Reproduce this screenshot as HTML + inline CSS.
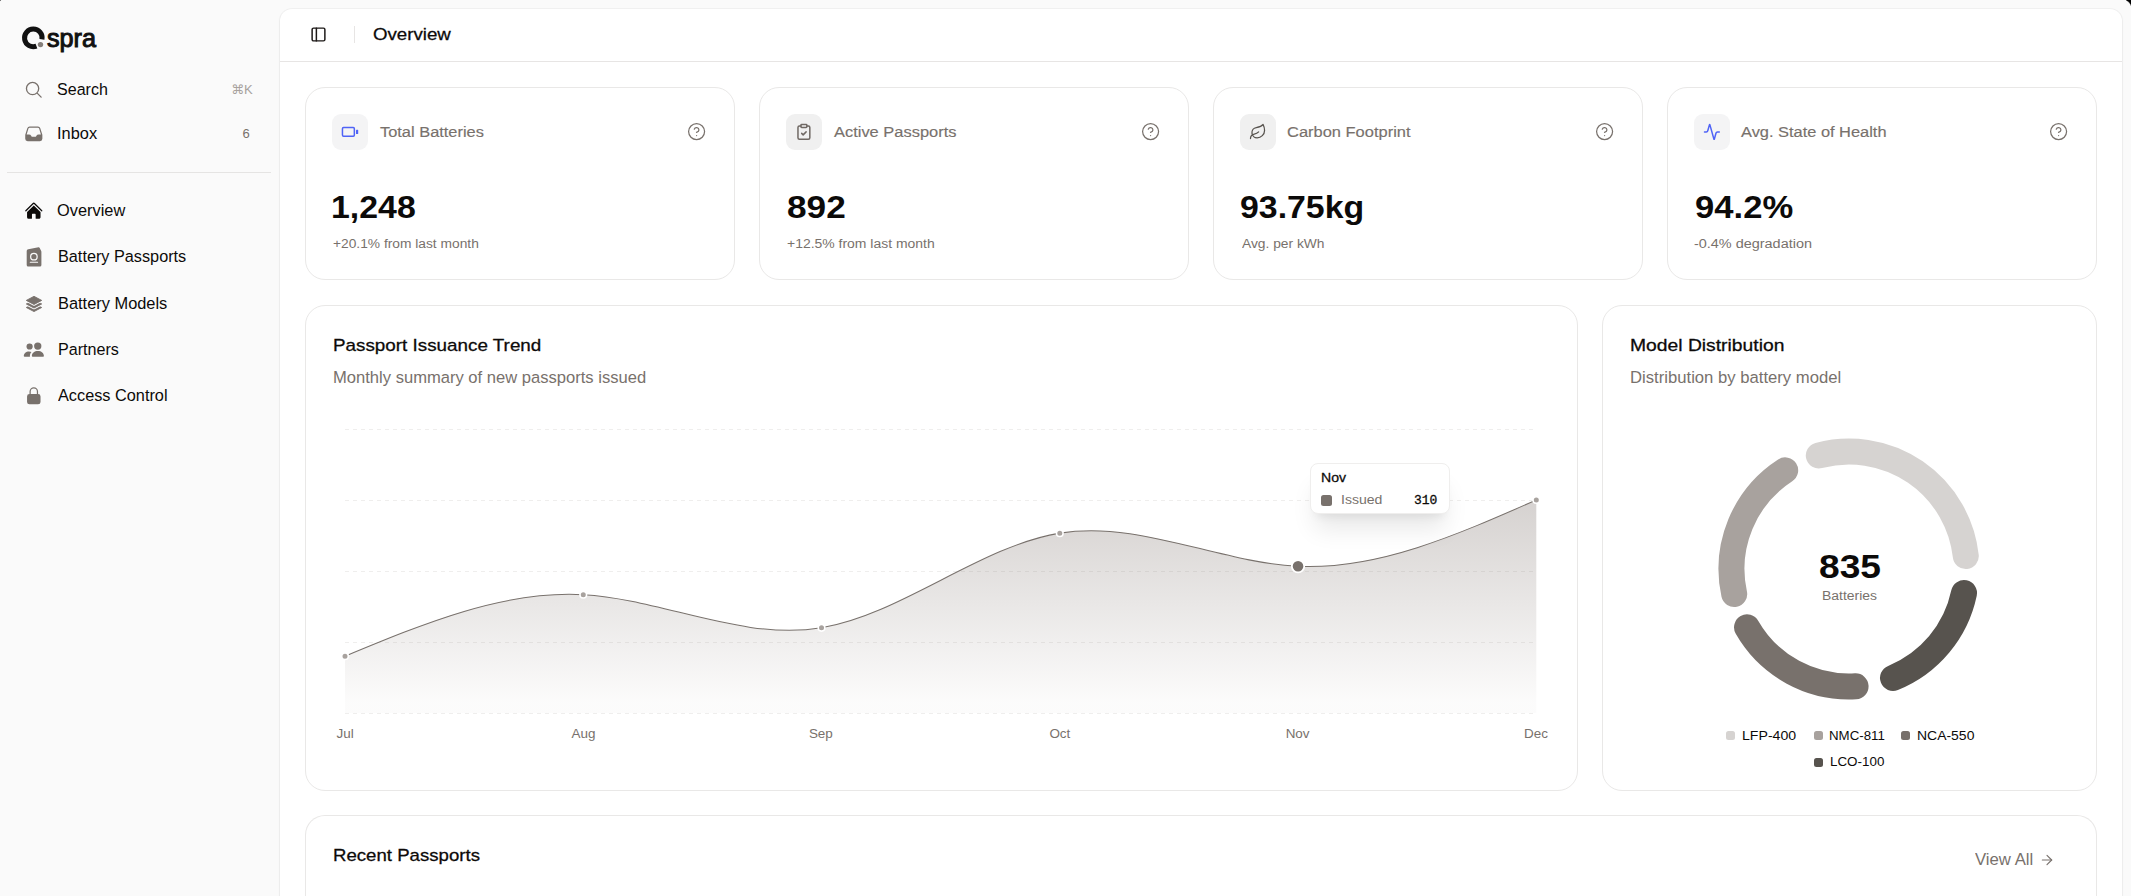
<!DOCTYPE html><html lang="en"><head><meta charset="utf-8"><title>Overview</title><style>
html,body{margin:0;padding:0}
html{overflow:hidden;width:2131px;height:896px}
body{width:2131px;height:896px;overflow:hidden;background:#fafafa;position:relative;font-family:"Liberation Sans",sans-serif}
.t{position:absolute;white-space:nowrap}
svg{position:absolute;overflow:visible}
.abs{position:absolute}
#main{left:280px;top:9px;width:1842px;height:887px;background:#fff;border-radius:12px 12px 0 0;box-shadow:0 0 0 1px rgba(0,0,0,.035),0 1px 3px rgba(0,0,0,.05)}
.card{position:absolute;box-sizing:border-box;border:1px solid #e9e8e7;border-radius:20px;background:#fff}
.ib{position:absolute;width:36px;height:36px;border-radius:9px;background:#f4f4f5}
.sq{position:absolute;border-radius:2.5px}
</style></head><body>
<div class="abs" style="right:0;top:0;width:5px;height:7px;background:radial-gradient(circle 9px at -3.6px 8.6px,rgba(0,0,0,0) 8.4px,#000 9.6px)"></div>
<div class="abs" style="left:0;top:0;width:2px;height:2px;background:radial-gradient(circle 3px at 3px 3px,rgba(0,0,0,0) 2.9px,#333 3.9px)"></div>
<aside>
<div class="brand">
<svg style="left:0;top:0" width="110" height="70" viewBox="0 0 110 70"><path d="M41.97,39.43A8.8,8.8 0 1 0 36.45,46.12" fill="none" stroke="#111" stroke-width="5" stroke-linecap="butt"/><circle cx="40.5" cy="44.6" r="2.7" fill="#857f7b"/></svg>
<div class="t" style="left:47.25px;top:26.00px;font:400 25px/1 'Liberation Sans', sans-serif;transform:scaleX(1.0075);transform-origin:0 0;-webkit-text-stroke:1.0px #111111;color:#111111">spra</div></div>
<nav>
<a><svg style="left:24.2px;top:79.9px;color:#78716c" width="19.6" height="19.6" viewBox="0 0 24 24" fill="currentColor"><path fill="none" stroke="currentColor" stroke-width="1.6" stroke-linecap="round" stroke-linejoin="round" d="m21 21-5.197-5.197m0 0A7.5 7.5 0 1 0 5.196 5.196a7.500 7.500 0 0 0 10.607 10.607Z"/></svg><div class="t" style="left:57.29px;top:82.00px;font:400 15.71px/1 'Liberation Sans', sans-serif;transform:scaleX(1.0227);transform-origin:0 0;color:#0c0a09">Search</div>
<div class="t" style="left:231.39px;top:84.00px;font:400 12.85px/1 'Liberation Sans','DejaVu Sans',sans-serif;transform:scaleX(1.0136);transform-origin:0 0;color:#a8a29e">⌘K</div></a>
<a><svg style="left:24.1px;top:123.8px;color:#78716c" width="19.6" height="19.6" viewBox="0 0 24 24" fill="currentColor"><path fill-rule="evenodd" d="M6.912 3a3 3 0 0 0-2.868 2.118l-2.411 7.838a3 3 0 0 0-.133.882V18a3 3 0 0 0 3 3h15a3 3 0 0 0 3-3v-4.162c0-.299-.045-.596-.133-.882l-2.412-7.838A3 3 0 0 0 17.088 3H6.912Zm13.823 9.75-2.213-7.191A1.5 1.5 0 0 0 17.088 4.5H6.912a1.5 1.5 0 0 0-1.434 1.059L3.265 12.75H6.11a3 3 0 0 1 2.684 1.658l.256.513a1.5 1.5 0 0 0 1.342.829h3.218a1.5 1.5 0 0 0 1.342-.83l.256-.512a3 3 0 0 1 2.684-1.658h2.844Z" clip-rule="evenodd"/></svg><div class="t" style="left:56.61px;top:126.00px;font:400 15.71px/1 'Liberation Sans', sans-serif;transform:scaleX(1.0434);transform-origin:0 0;color:#0c0a09">Inbox</div>
<div class="t" style="left:242.54px;top:127.00px;font:400 13.06px/1 'Liberation Sans', sans-serif;color:#78716c">6</div></a>
</nav>
<div class="abs" style="left:7px;top:172px;width:264px;height:1px;background:#e5e4e3"></div>
<nav>
<a><svg style="left:23.9px;top:200.9px;color:#0c0a09" width="19.6" height="19.6" viewBox="0 0 24 24" fill="currentColor"><path d="M11.47 3.841a.75.75 0 0 1 1.06 0l8.69 8.69a.75.75 0 1 0 1.06-1.061l-8.689-8.69a2.25 2.25 0 0 0-3.182 0l-8.69 8.69a.75.75 0 1 0 1.061 1.06l8.69-8.689Z"/><path d="m12 5.432 8.159 8.159c.03.03.06.058.091.086v6.198c0 1.035-.84 1.875-1.875 1.875H15a.75.75 0 0 1-.75-.75v-4.5a.75.75 0 0 0-.75-.75h-3a.75.75 0 0 0-.75.75V21a.75.75 0 0 1-.75.75H5.625a1.875 1.875 0 0 1-1.875-1.875v-6.198a2.29 2.29 0 0 0 .091-.086L12 5.432Z"/></svg><div class="t" style="left:57.34px;top:203.00px;font:400 15.71px/1 'Liberation Sans', sans-serif;transform:scaleX(1.0422);transform-origin:0 0;color:#0c0a09">Overview</div></a>
<a><svg style="left:26px;top:247px;color:#78716c" width="17" height="21" viewBox="0 0 17 21"><path fill="currentColor" d="M2.300 2.300 L12.500 0.300 Q13.300 0.150 13.700 0.900 L15.200 4 Q15.400 4.400 15.400 5 L15.400 18.100 A1.500 1.500 0 0 1 13.900 19.600 L2.200 19.600 A1.500 1.500 0 0 1 0.700 18.100 L0.700 4 A1.700 1.700 0 0 1 2.300 2.300Z"/><circle cx="7.900" cy="9.700" r="3.250" fill="none" stroke="#fafafa" stroke-width="1.250"/><path d="M4.300 15.200H11.600" stroke="#fafafa" stroke-width="1.050" stroke-linecap="round"/></svg><div class="t" style="left:57.84px;top:249.00px;font:400 15.71px/1 'Liberation Sans', sans-serif;transform:scaleX(1.0346);transform-origin:0 0;color:#0c0a09">Battery Passports</div></a>
<a><svg style="left:24px;top:294px" width="20" height="20" viewBox="24 294 20 20"><polygon points="26.30,307.50 34,303.45 41.70,307.50 34,311.55" fill="#78716c" stroke="#78716c" stroke-width="0.900" stroke-linejoin="round"/><polygon points="26.30,303.95 34,299.90 41.70,303.95 34,308.00" fill="none" stroke="#fafafa" stroke-width="2.700" stroke-linejoin="round"/><polygon points="26.30,303.95 34,299.90 41.70,303.95 34,308.00" fill="#78716c" stroke="#78716c" stroke-width="0.900" stroke-linejoin="round"/><polygon points="26.30,300.40 34,296.35 41.70,300.40 34,304.45" fill="none" stroke="#fafafa" stroke-width="2.700" stroke-linejoin="round"/><polygon points="26.30,300.40 34,296.35 41.70,300.40 34,304.45" fill="#78716c" stroke="#78716c" stroke-width="0.900" stroke-linejoin="round"/></svg><div class="t" style="left:57.80px;top:296.00px;font:400 15.71px/1 'Liberation Sans', sans-serif;transform:scaleX(1.0438);transform-origin:0 0;color:#0c0a09">Battery Models</div></a>
<a><svg style="left:23px;top:341px;color:#78716c" width="22" height="18" viewBox="0 0 22 18" fill="currentColor"><circle cx="6.600" cy="5.500" r="3.100"/><circle cx="14.750" cy="5.100" r="3.650"/><path d="M8.850 15c0-3 2.600-5 6.030-5s6.030 2 6.030 5c0 .5-.3.800-.8.800H9.650c-.5 0-.8-.3-.8-.8Z"/><path d="M.8 15c0-2.800 2.200-4.600 5.200-4.600.9 0 1.800.2 2.500.5-1 1-1.600 2.400-1.600 4.100 0 .3 0 .5.100.8H1.600c-.5 0-.8-.3-.8-.8Z"/></svg><div class="t" style="left:57.88px;top:342.00px;font:400 15.71px/1 'Liberation Sans', sans-serif;transform:scaleX(1.0256);transform-origin:0 0;color:#0c0a09">Partners</div></a>
<a><svg style="left:24.2px;top:385.8px;color:#78716c" width="19.6" height="19.6" viewBox="0 0 24 24" fill="currentColor"><path fill-rule="evenodd" d="M12 1.5a5.25 5.25 0 0 0-5.25 5.25v3a3 3 0 0 0-3 3v6.75a3 3 0 0 0 3 3h10.5a3 3 0 0 0 3-3v-6.75a3 3 0 0 0-3-3v-3c0-2.9-2.35-5.25-5.25-5.25Zm3.75 8.25v-3a3.75 3.75 0 1 0-7.5 0v3h7.5Z" clip-rule="evenodd"/></svg><div class="t" style="left:58.21px;top:388.00px;font:400 15.71px/1 'Liberation Sans', sans-serif;transform:scaleX(1.0373);transform-origin:0 0;color:#0c0a09">Access Control</div></a>
</nav>
</aside>
<main>
<div id="main" class="abs"></div>
<header>
<svg style="left:310.2px;top:26.3px" width="17" height="17" viewBox="0 0 24 24" fill="none" stroke="#1c1917" stroke-width="2.1" stroke-linecap="round" stroke-linejoin="round"><rect width="18" height="18" x="3" y="3" rx="2"/><path d="M9 3v18"/></svg>
<div class="abs" style="left:354px;top:26px;width:1px;height:17px;background:#e7e5e4"></div>
<div class="t" style="left:373.40px;top:26.00px;font:400 17.42px/1 'Liberation Sans', sans-serif;transform:scaleX(1.0734);transform-origin:0 0;-webkit-text-stroke:0.28px #0c0a09;color:#0c0a09">Overview</div>
<div class="abs" style="left:280px;top:61px;width:1842px;height:1px;background:#e7e5e4"></div>
</header>
<section>
<article><div class="card" style="left:305px;top:87px;width:430px;height:193px"></div>
<div class="ib" style="left:332px;top:114px;background:#f4f4f5"></div>
<svg style="left:340px;top:125px" width="20" height="14" viewBox="340 125 20 14"><rect x="342.450" y="127.550" width="11.900" height="8.600" rx="1.100" fill="none" stroke="#4f63f6" stroke-width="1.500"/><rect x="356" y="129.800" width="2.200" height="4.200" rx="0.600" fill="#4f63f6"/></svg>
<svg style="left:687.1px;top:122.35px" width="19.2" height="19.2" viewBox="0 0 24 24" fill="none" stroke="#78716c" stroke-width="1.55" stroke-linecap="round" stroke-linejoin="round"><circle cx="12" cy="12" r="10"/><path d="M9.09 9a3 3 0 0 1 5.83 1c0 2-3 3-3 3"/><path d="M12 17h.01"/></svg>
<div class="t" style="left:379.96px;top:124.00px;font:400 15.25px/1 'Liberation Sans', sans-serif;transform:scaleX(1.0752);transform-origin:0 0;-webkit-text-stroke:0.16px #78716c;color:#78716c">Total Batteries</div>
<div class="t" style="left:330.99px;top:192.00px;font:700 31.26px/1 'Liberation Sans', sans-serif;transform:scaleX(1.0832);transform-origin:0 0;color:#0c0a09">1,248</div>
<div class="t" style="left:332.72px;top:237.00px;font:400 13.46px/1 'Liberation Sans', sans-serif;transform:scaleX(1.0235);transform-origin:0 0;color:#78716c">+20.1% from last month</div></article>
<article><div class="card" style="left:759px;top:87px;width:430px;height:193px"></div>
<div class="ib" style="left:786px;top:114px;background:#f0f0f0"></div>
<svg style="left:795.1px;top:122.9px" width="17.8" height="17.8" viewBox="0 0 24 24" fill="none" stroke="#6f6863" stroke-width="2" stroke-linecap="round" stroke-linejoin="round"><rect width="8" height="4" x="8" y="2" rx="1" ry="1"/><path d="M16 4h2a2 2 0 0 1 2 2v14a2 2 0 0 1-2 2H6a2 2 0 0 1-2-2V6a2 2 0 0 1 2-2h2"/><path d="m9 14 2 2 4-4"/></svg>
<svg style="left:1141.1px;top:122.35px" width="19.2" height="19.2" viewBox="0 0 24 24" fill="none" stroke="#78716c" stroke-width="1.55" stroke-linecap="round" stroke-linejoin="round"><circle cx="12" cy="12" r="10"/><path d="M9.09 9a3 3 0 0 1 5.83 1c0 2-3 3-3 3"/><path d="M12 17h.01"/></svg>
<div class="t" style="left:833.85px;top:124.00px;font:400 15.25px/1 'Liberation Sans', sans-serif;transform:scaleX(1.0780);transform-origin:0 0;-webkit-text-stroke:0.16px #78716c;color:#78716c">Active Passports</div>
<div class="t" style="left:787.29px;top:192.00px;font:700 31.26px/1 'Liberation Sans', sans-serif;transform:scaleX(1.1266);transform-origin:0 0;color:#0c0a09">892</div>
<div class="t" style="left:787.22px;top:237.00px;font:400 13.46px/1 'Liberation Sans', sans-serif;transform:scaleX(1.0364);transform-origin:0 0;color:#78716c">+12.5% from last month</div></article>
<article><div class="card" style="left:1213px;top:87px;width:430px;height:193px"></div>
<div class="ib" style="left:1240px;top:114px;background:#f0f0f0"></div>
<svg style="left:1249.1px;top:122.9px" width="17.8" height="17.8" viewBox="0 0 24 24" fill="none" stroke="#57534e" stroke-width="1.7" stroke-linecap="round" stroke-linejoin="round"><path d="M11 20A7 7 0 0 1 9.800 6.100C15.500 5 17 4.480 19 2c1 2 2 4.180 2 8 0 5.500-4.780 10-10 10Z"/><path d="M2 21c0-3 1.850-5.360 5.080-6C9.500 14.520 12 13 13 12"/></svg>
<svg style="left:1595.1px;top:122.35px" width="19.2" height="19.2" viewBox="0 0 24 24" fill="none" stroke="#78716c" stroke-width="1.55" stroke-linecap="round" stroke-linejoin="round"><circle cx="12" cy="12" r="10"/><path d="M9.09 9a3 3 0 0 1 5.83 1c0 2-3 3-3 3"/><path d="M12 17h.01"/></svg>
<div class="t" style="left:1286.90px;top:124.00px;font:400 15.25px/1 'Liberation Sans', sans-serif;transform:scaleX(1.0793);transform-origin:0 0;-webkit-text-stroke:0.16px #78716c;color:#78716c">Carbon Footprint</div>
<div class="t" style="left:1239.69px;top:192.00px;font:700 31.26px/1 'Liberation Sans', sans-serif;transform:scaleX(1.0826);transform-origin:0 0;color:#0c0a09">93.75kg</div>
<div class="t" style="left:1241.56px;top:237.00px;font:400 13.46px/1 'Liberation Sans', sans-serif;transform:scaleX(1.0249);transform-origin:0 0;color:#78716c">Avg. per kWh</div></article>
<article><div class="card" style="left:1667px;top:87px;width:430px;height:193px"></div>
<div class="ib" style="left:1694px;top:114px;background:#f4f4f5"></div>
<svg style="left:1703.1px;top:122.9px" width="17.8" height="17.8" viewBox="0 0 24 24" fill="none" stroke="#4f63f6" stroke-width="2" stroke-linecap="round" stroke-linejoin="round"><path d="M22 12h-2.480a2 2 0 0 0-1.930 1.460l-2.350 8.360a.25.25 0 0 1-.480 0L9.240 2.180a.25.25 0 0 0-.480 0l-2.350 8.360A2 2 0 0 1 4.490 12H2"/></svg>
<svg style="left:2049.1px;top:122.35px" width="19.2" height="19.2" viewBox="0 0 24 24" fill="none" stroke="#78716c" stroke-width="1.55" stroke-linecap="round" stroke-linejoin="round"><circle cx="12" cy="12" r="10"/><path d="M9.09 9a3 3 0 0 1 5.83 1c0 2-3 3-3 3"/><path d="M12 17h.01"/></svg>
<div class="t" style="left:1741.05px;top:124.00px;font:400 15.25px/1 'Liberation Sans', sans-serif;transform:scaleX(1.0750);transform-origin:0 0;-webkit-text-stroke:0.16px #78716c;color:#78716c">Avg. State of Health</div>
<div class="t" style="left:1694.60px;top:192.00px;font:700 31.26px/1 'Liberation Sans', sans-serif;transform:scaleX(1.1079);transform-origin:0 0;color:#0c0a09">94.2%</div>
<div class="t" style="left:1694.19px;top:237.00px;font:400 13.46px/1 'Liberation Sans', sans-serif;transform:scaleX(1.0728);transform-origin:0 0;color:#78716c">-0.4% degradation</div></article>
</section>
<section>
<article><div class="card" style="left:305px;top:305px;width:1273px;height:486px"></div>
<div class="t" style="left:332.93px;top:337.00px;font:400 17.42px/1 'Liberation Sans', sans-serif;transform:scaleX(1.0819);transform-origin:0 0;-webkit-text-stroke:0.28px #0c0a09;color:#0c0a09">Passport Issuance Trend</div>
<div class="t" style="left:332.77px;top:370.00px;font:400 15.71px/1 'Liberation Sans', sans-serif;transform:scaleX(1.0553);transform-origin:0 0;color:#78716c">Monthly summary of new passports issued</div>
<svg style="left:305px;top:400px" width="1273" height="360" viewBox="305 400 1273 360"><defs><linearGradient id="ag" x1="0" y1="0" x2="0" y2="1"><stop offset="0.05" stop-color="#7b6f69" stop-opacity="0.30"/><stop offset="0.95" stop-color="#7b6f69" stop-opacity="0.025"/></linearGradient></defs><line x1="345" x2="1536.5" y1="429.5" y2="429.5" stroke="#efeeed" stroke-width="1" stroke-dasharray="4 4"/><line x1="345" x2="1536.5" y1="500.5" y2="500.5" stroke="#efeeed" stroke-width="1" stroke-dasharray="4 4"/><line x1="345" x2="1536.5" y1="571.5" y2="571.5" stroke="#efeeed" stroke-width="1" stroke-dasharray="4 4"/><line x1="345" x2="1536.5" y1="642.5" y2="642.5" stroke="#efeeed" stroke-width="1" stroke-dasharray="4 4"/><line x1="345" x2="1536.5" y1="713.5" y2="713.5" stroke="#efeeed" stroke-width="1" stroke-dasharray="4 4"/><path d="M345.00,656.20C424.42,623.20,503.84,590.21,583.26,594.67C662.68,599.13,742.10,641.05,821.52,627.80C900.94,614.55,980.36,546.13,1059.78,533.13C1139.20,520.13,1218.62,562.55,1298.04,566.27C1377.46,569.98,1456.88,534.99,1536.30,500.00L1536.30,713.0L345.00,713.0Z" fill="url(#ag)"/><path d="M345.00,656.20C424.42,623.20,503.84,590.21,583.26,594.67C662.68,599.13,742.10,641.05,821.52,627.80C900.94,614.55,980.36,546.13,1059.78,533.13C1139.20,520.13,1218.62,562.55,1298.04,566.27C1377.46,569.98,1456.88,534.99,1536.30,500.00" fill="none" stroke="#78716c" stroke-width="1.050"/><circle cx="345.00" cy="656.20" r="3.300" fill="#a8a29e" stroke="#fff" stroke-width="1.600"/><circle cx="583.26" cy="594.67" r="3.300" fill="#a8a29e" stroke="#fff" stroke-width="1.600"/><circle cx="821.52" cy="627.80" r="3.300" fill="#a8a29e" stroke="#fff" stroke-width="1.600"/><circle cx="1059.78" cy="533.13" r="3.300" fill="#a8a29e" stroke="#fff" stroke-width="1.600"/><circle cx="1536.30" cy="500.00" r="3.300" fill="#a8a29e" stroke="#fff" stroke-width="1.600"/><circle cx="1298.04" cy="566.27" r="6.200" fill="#78716c" stroke="#fff" stroke-width="1.800"/></svg>
<div class="t" style="left:336.55px;top:727.00px;font:400 13.46px/1 'Liberation Sans', sans-serif;color:#78716c">Jul</div>
<div class="t" style="left:571.59px;top:727.00px;font:400 13.46px/1 'Liberation Sans', sans-serif;color:#78716c">Aug</div>
<div class="t" style="left:808.89px;top:727.00px;font:400 13.46px/1 'Liberation Sans', sans-serif;color:#78716c">Sep</div>
<div class="t" style="left:1049.41px;top:727.00px;font:400 13.46px/1 'Liberation Sans', sans-serif;color:#78716c">Oct</div>
<div class="t" style="left:1285.64px;top:727.00px;font:400 13.46px/1 'Liberation Sans', sans-serif;color:#78716c">Nov</div>
<div class="t" style="left:1523.99px;top:727.00px;font:400 13.46px/1 'Liberation Sans', sans-serif;color:#78716c">Dec</div>
<div class="abs" style="left:1310px;top:462.500px;width:139.500px;height:51px;box-sizing:border-box;background:#fff;border:1px solid #efeeed;border-radius:8px;box-shadow:0 20px 25px -5px rgba(0,0,0,.09),0 8px 10px -6px rgba(0,0,0,.08)"></div>
<div class="sq" style="left:1321px;top:495px;width:11px;height:11px;background:#78716c"></div>
<div class="t" style="left:1320.74px;top:471.00px;font:400 13.07px/1 'Liberation Sans', sans-serif;transform:scaleX(1.0786);transform-origin:0 0;-webkit-text-stroke:0.28px #0c0a09;color:#0c0a09">Nov</div>
<div class="t" style="left:1341.47px;top:493.00px;font:400 13.46px/1 'Liberation Sans', sans-serif;transform:scaleX(1.0456);transform-origin:0 0;color:#78716c">Issued</div>
<div class="t" style="left:1414.49px;top:494.00px;font:400 13.4px/1 'Liberation Mono', monospace;transform:scaleX(0.9699);transform-origin:0 0;-webkit-text-stroke:0.3px #0c0a09;color:#0c0a09">310</div></article>
<article><div class="card" style="left:1602px;top:305px;width:495px;height:486px"></div>
<div class="t" style="left:1629.85px;top:337.00px;font:400 17.42px/1 'Liberation Sans', sans-serif;transform:scaleX(1.1082);transform-origin:0 0;-webkit-text-stroke:0.28px #0c0a09;color:#0c0a09">Model Distribution</div>
<div class="t" style="left:1629.75px;top:370.00px;font:400 15.71px/1 'Liberation Sans', sans-serif;transform:scaleX(1.0614);transform-origin:0 0;color:#78716c">Distribution by battery model</div>
<svg style="left:1700px;top:420px" width="300" height="300" viewBox="1700 420 300 300"><path d="M1965.79,556.11A117.5,117.5 0 0 0 1818.79,455.45" fill="none" stroke="#d6d3d1" stroke-width="26" stroke-linecap="round"/><path d="M1785.18,470.34A117.5,117.5 0 0 0 1734.20,594.03" fill="none" stroke="#a8a29e" stroke-width="26" stroke-linecap="round"/><path d="M1747.04,627.39A117.5,117.5 0 0 0 1855.56,686.32" fill="none" stroke="#78716c" stroke-width="26" stroke-linecap="round"/><path d="M1893.02,677.94A117.5,117.5 0 0 0 1964.02,593.03" fill="none" stroke="#57534e" stroke-width="26" stroke-linecap="round"/></svg>
<div class="t" style="left:1818.60px;top:550.00px;font:700 33.49px/1 'Liberation Sans', sans-serif;transform:scaleX(1.1108);transform-origin:0 0;color:#0c0a09">835</div>
<div class="t" style="left:1822.27px;top:589.00px;font:400 13.46px/1 'Liberation Sans', sans-serif;transform:scaleX(1.0365);transform-origin:0 0;color:#78716c">Batteries</div>
<div class="sq" style="left:1726px;top:731.2px;width:9px;height:9px;background:#d6d3d1"></div><div class="t" style="left:1741.72px;top:729.00px;font:400 13.46px/1 'Liberation Sans', sans-serif;transform:scaleX(1.0495);transform-origin:0 0;color:#0c0a09">LFP-400</div>
<div class="sq" style="left:1813.8px;top:731.2px;width:9px;height:9px;background:#a8a29e"></div><div class="t" style="left:1829.07px;top:729.00px;font:400 13.46px/1 'Liberation Sans', sans-serif;transform:scaleX(0.9870);transform-origin:0 0;color:#0c0a09">NMC-811</div>
<div class="sq" style="left:1901.2px;top:731.2px;width:9px;height:9px;background:#78716c"></div><div class="t" style="left:1916.89px;top:729.00px;font:400 13.46px/1 'Liberation Sans', sans-serif;transform:scaleX(1.0373);transform-origin:0 0;color:#0c0a09">NCA-550</div>
<div class="sq" style="left:1814px;top:757.8px;width:9px;height:9px;background:#57534e"></div><div class="t" style="left:1830.16px;top:755.00px;font:400 13.46px/1 'Liberation Sans', sans-serif;transform:scaleX(0.9954);transform-origin:0 0;color:#0c0a09">LCO-100</div>
</article>
</section>
<section><article><div class="card" style="left:305px;top:815px;width:1792px;height:81px;border-bottom:0;border-radius:20px 20px 0 0"></div>
<div class="t" style="left:332.96px;top:847.00px;font:400 17.42px/1 'Liberation Sans', sans-serif;transform:scaleX(1.0696);transform-origin:0 0;-webkit-text-stroke:0.28px #0c0a09;color:#0c0a09">Recent Passports</div>
<div class="t" style="left:1974.56px;top:852.00px;font:400 15.71px/1 'Liberation Sans', sans-serif;transform:scaleX(1.0651);transform-origin:0 0;color:#78716c">View All</div>
<svg style="left:2039.4px;top:852.0px" width="16" height="16" viewBox="0 0 24 24" fill="none" stroke="#78716c" stroke-width="1.7" stroke-linecap="round" stroke-linejoin="round"><path d="M5 12h14"/><path d="m12 5 7 7-7 7"/></svg>
</article></section>
</main>
</body></html>
